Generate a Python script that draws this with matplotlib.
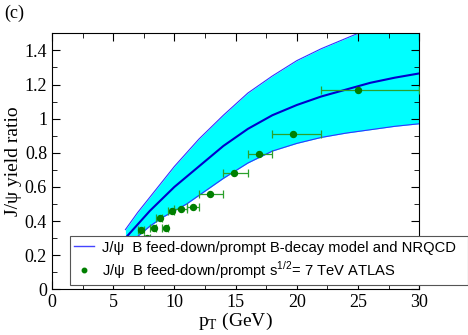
import matplotlib
matplotlib.use("Agg")
import matplotlib.pyplot as plt
from matplotlib.ticker import MultipleLocator, FormatStrFormatter

plt.rcParams['font.family'] = 'Liberation Serif'
plt.rcParams['mathtext.fontset'] = 'custom'
plt.rcParams['mathtext.rm'] = 'Liberation Serif'
plt.rcParams['mathtext.sf'] = 'Liberation Sans'

# theory band (B-decay model + NRQCD)
pt_model = [6, 7, 8, 9, 10, 11, 12, 13, 14, 16, 18, 20, 22, 24, 26, 28, 30]
ratio_mid = [0.30, 0.38, 0.46, 0.53, 0.60, 0.66, 0.72, 0.78, 0.84, 0.94, 1.02, 1.08, 1.13, 1.17, 1.21, 1.24, 1.265]
ratio_up = [0.35, 0.45, 0.54, 0.63, 0.72, 0.80, 0.88, 0.95, 1.02, 1.15, 1.25, 1.34, 1.41, 1.47, 1.53, 1.58, 1.62]
ratio_lo = [0.25, 0.31, 0.37, 0.42, 0.46, 0.50, 0.55, 0.60, 0.65, 0.74, 0.81, 0.855, 0.89, 0.915, 0.935, 0.955, 0.97]

# ATLAS 7 TeV points
pt_data = [7.3, 7.8, 8.3, 8.8, 9.3, 9.8, 10.5, 11.5, 12.9, 14.9, 16.9, 19.7, 25.0]
ratio_data = [0.35, 0.30, 0.36, 0.42, 0.36, 0.46, 0.47, 0.48, 0.56, 0.68, 0.79, 0.91, 1.17]
bin_lo = [7, 7.5, 8, 8.5, 9, 9.5, 10, 11, 12, 14, 16, 18, 22]
bin_hi = [7.5, 8, 8.5, 9, 9.5, 10, 11, 12, 14, 16, 18, 22, 30]

xerr = [[p - a for p, a in zip(pt_data, bin_lo)],
        [b - p for p, b in zip(pt_data, bin_hi)]]

fig = plt.figure(figsize=(4.68, 3.35), dpi=100)
ax = fig.add_axes([0.111, 0.1364, 0.785, 0.7642])

ax.fill_between(pt_model, ratio_lo, ratio_up, color='#00ffff', lw=0, zorder=1)
ax.plot(pt_model, ratio_up, color='#3333ff', lw=0.8, zorder=2)
ax.plot(pt_model, ratio_lo, color='#3333ff', lw=0.8, zorder=2)
ax.plot(pt_model, ratio_mid, color='#0000cc', lw=1.5, zorder=3)
# legend handle uses a thinner, lighter line than the curve
ax.plot([], [], color='#4444ff', lw=1.0,
        label='J/ψ  B feed-down/prompt B-decay model and NRQCD')

ax.errorbar(pt_data, ratio_data, xerr=xerr, fmt='none', ecolor='#2ca02c',
            elinewidth=0.9, capsize=3, capthick=0.9, zorder=4)
ax.plot(pt_data, ratio_data, 'o', color='#007f00', ms=4.3, zorder=5,
        label=r'J/ψ  B feed-down/prompt s$^{\mathsf{1/2}}$= 7 TeV ATLAS')

ax.set_xlim(0, 30)
ax.set_ylim(0, 1.5)
ax.xaxis.set_major_locator(MultipleLocator(5))
ax.xaxis.set_minor_locator(MultipleLocator(2.5))
ax.yaxis.set_major_locator(MultipleLocator(0.2))
ax.yaxis.set_minor_locator(MultipleLocator(0.1))
ax.yaxis.set_major_formatter(FormatStrFormatter('%g'))
ax.tick_params(which='both', direction='in', top=True, right=True, labelsize=13)
ax.tick_params(which='major', length=6)
ax.tick_params(which='minor', length=3.5)

ax.set_xlabel(r'p$_{\mathrm{T}}$ (GeV)', fontsize=14, labelpad=0)
ax.set_ylabel('J/ψ yield ratio', fontsize=14, labelpad=2)

leg = fig.legend(loc='lower left', bbox_to_anchor=(0.1496, 0.149, 0.85, 0.14),
                 mode='expand', borderaxespad=0, fancybox=False,
                 prop={'family': 'Liberation Sans', 'size': 10.6},
                 handlelength=1.3, handletextpad=0.6, labelspacing=0.3,
                 borderpad=0.3, markerscale=0.75, framealpha=1)
leg.get_frame().set_edgecolor('#555555')
leg.get_frame().set_linewidth(0.8)

fig.text(0.01, 0.985, '(c)', fontsize=13, va='top', ha='left')

fig.savefig('out.png', dpi=100)
